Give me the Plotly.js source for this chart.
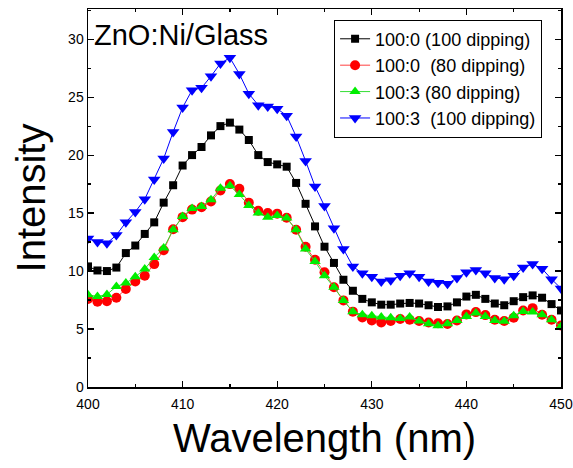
<!DOCTYPE html>
<html>
<head>
<meta charset="utf-8">
<script src="https://cdn.plot.ly/plotly-3.0.1.min.js"></script>
<style>html,body{margin:0;padding:0;background:#fff;}#chart{width:573px;height:468px;}</style>
</head>
<body>
<div id="chart"></div>
<script>
const wavelength = [400,401,402,403,404,405,406,407,408,409,410,411,412,413,414,415,416,417,418,419,420,421,422,423,424,425,426,427,428,429,430,431,432,433,434,435,436,437,438,439,440,441,442,443,444,445,446,447,448,449,450];

const s100_0_100dip = [10.4,10.05,10.0,10.3,11.55,12.2,13.2,14.2,15.9,17.4,19.1,20.0,20.7,21.7,22.5,22.8,22.2,21.3,20.0,19.4,19.2,19.0,17.6,15.8,13.85,12.1,10.7,9.25,8.3,7.6,7.3,7.1,7.1,7.2,7.25,7.2,7.05,6.9,6.95,7.3,7.8,7.95,7.6,7.2,7.05,7.4,7.75,7.9,7.7,7.15,6.6];

const s100_0_80dip = [7.6,7.35,7.4,7.7,8.45,9.1,9.6,10.6,11.8,13.6,14.65,15.3,15.5,16.0,16.95,17.5,17.1,15.9,15.2,15.0,14.95,14.6,13.56,12.1,10.97,9.9,8.6,7.47,6.5,6.0,5.74,5.57,5.69,5.86,5.8,5.69,5.57,5.5,5.43,5.74,6.26,6.46,6.2,5.8,5.69,5.97,6.6,6.8,6.23,5.8,5.3];

const s100_3_80dip = [7.96,7.8,7.98,8.67,8.96,9.5,10.17,11.17,11.98,13.56,14.7,15.4,15.57,16.15,17.15,17.35,16.6,15.65,15.0,14.65,14.8,14.57,13.56,11.9,10.83,9.6,8.6,7.47,6.5,6.23,6.15,6.03,5.97,5.91,6.03,5.69,5.46,5.28,5.46,5.74,6.09,6.38,6.09,5.74,5.66,6.15,6.52,6.46,6.23,5.8,5.22];

const s100_3_100dip = [12.8,12.5,12.4,13.1,14.2,15.1,16.2,17.9,19.7,22.0,24.1,25.6,25.8,26.8,27.9,28.4,27.0,25.3,24.3,24.2,24.0,23.4,21.6,19.5,17.3,15.6,13.7,11.9,10.4,9.8,9.5,9.1,9.2,9.6,9.8,9.5,9.1,9.0,8.9,9.4,9.9,10.1,9.8,9.4,9.3,9.6,10.3,10.6,10.2,9.3,8.5];

const seriesNames = ["100:0 (100 dipping)", "100:0 \u00a0(80 dipping)", "100:3 (80 dipping)", "100:3 \u00a0(100 dipping)"];
const chartTitle = "ZnO:Ni/Glass";
const xTitle = "Wavelength (nm)";
const yTitle = "Intensity";

const FONT = "Liberation Sans, Arial, sans-serif";

const traces = [
  {x: wavelength, y: s100_0_100dip, name: seriesNames[0], mode: "lines+markers",
   line: {color: "#000000", width: 1}, marker: {symbol: "square", size: 8, color: "#000000"}},
  {x: wavelength, y: s100_0_80dip, name: seriesNames[1], mode: "lines+markers",
   line: {color: "#ff4040", width: 1}, marker: {symbol: "circle", size: 10, color: "#ff0000"}},
  {x: wavelength, y: s100_3_80dip, name: seriesNames[2], mode: "lines+markers",
   line: {color: "#33dd33", width: 1}, marker: {symbol: "triangle-up", size: 10, color: "#00ee00"}},
  {x: wavelength, y: s100_3_100dip, name: seriesNames[3], mode: "lines+markers",
   line: {color: "#0000ff", width: 1}, marker: {symbol: "triangle-down", size: 11, color: "#0000ff"}}
];

const axisCommon = {
  showgrid: false, zeroline: false, showline: true, linecolor: "#000", linewidth: 1.5,
  mirror: "ticks", ticks: "inside", ticklen: 6, tickwidth: 1.2, tickcolor: "#000",
  tickfont: {family: FONT, size: 14, color: "#000"}
};

const layout = {
  width: 573, height: 468,
  margin: {l: 88, r: 12, t: 9, b: 81},
  paper_bgcolor: "#fff", plot_bgcolor: "#fff",
  showlegend: true,
  legend: {x: 0.96, y: 0.972, xanchor: "right", yanchor: "top",
    bgcolor: "#fff", bordercolor: "#000", borderwidth: 1,
    font: {family: FONT, size: 18, color: "#000"}, tracegroupgap: 0},
  xaxis: Object.assign({}, axisCommon, {
    range: [400, 450], dtick: 10, tick0: 400, ticklabelstandoff: 4,
    minor: {dtick: 5, ticks: "inside", ticklen: 3, tickcolor: "#000", tickwidth: 1.2},
    title: {text: xTitle, font: {family: FONT, size: 40, color: "#000"}, standoff: 12}
  }),
  yaxis: Object.assign({}, axisCommon, {
    range: [0, 32.6], dtick: 5, tick0: 0,
    minor: {dtick: 2.5, ticks: "inside", ticklen: 3, tickcolor: "#000", tickwidth: 1.2},
    title: {text: yTitle, font: {family: FONT, size: 40, color: "#000"}, standoff: 10}
  }),
  annotations: [{
    text: chartTitle, xref: "paper", yref: "paper", x: 0.008, y: 0.932,
    xanchor: "left", yanchor: "middle", showarrow: false,
    font: {family: FONT, size: 29, color: "#000"}
  }]
};

Plotly.newPlot("chart", traces, layout, {displayModeBar: false, staticPlot: true});
</script>
</body>
</html>
